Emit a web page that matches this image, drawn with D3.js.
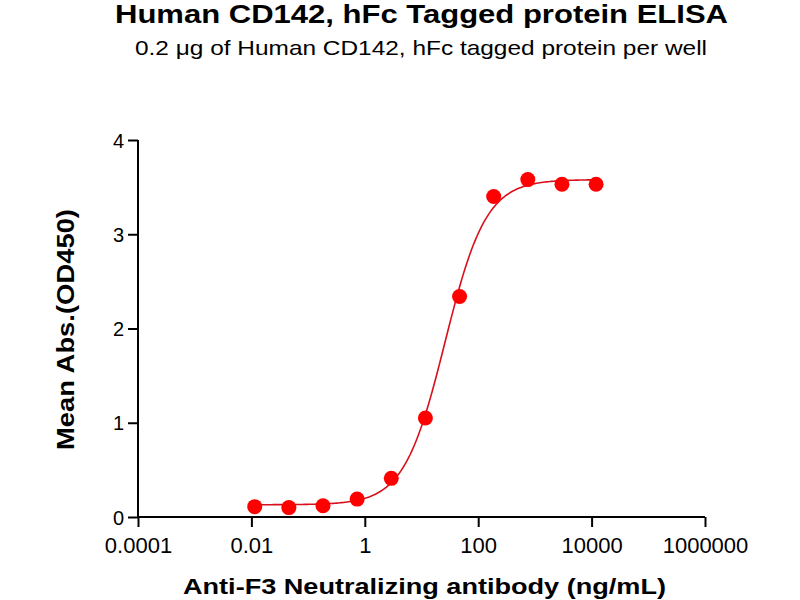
<!DOCTYPE html>
<html><head><meta charset="utf-8">
<script src="https://cdn.jsdelivr.net/npm/d3@7"></script>
<style>body{margin:0;background:#fff}</style>
</head><body><svg id="c" width="800" height="600"></svg>
<script>
const concentrations = [0.01144, 0.04578, 0.1831, 0.7324, 2.930, 11.72, 46.88, 187.5, 750, 3000, 12000];
const absorbance = [0.11, 0.10, 0.12, 0.19, 0.41, 1.05, 2.34, 3.40, 3.58, 3.53, 3.53];
const xTicks = [0.0001, 0.01, 1, 100, 10000, 1000000];
const xTickLabels = ["0.0001", "0.01", "1", "100", "10000", "1000000"];
const yTicks = [0, 1, 2, 3, 4];
// four-parameter logistic fit: bottom, top, EC50, hill slope
const fitParams = [0.13, 3.58, 26, 1.2];

const svg = d3.select("#c");
const font = "'Liberation Sans', Arial, sans-serif";
const x = d3.scaleLog().domain([0.0001, 1000000]).range([138, 705]);
const y = d3.scaleLinear().domain([0, 4]).range([517, 140]);

svg.append("text").attr("x", 115).attr("y", 23).attr("textLength", 613).attr("lengthAdjust", "spacingAndGlyphs")
  .attr("font-family", font).attr("font-weight", "bold").attr("font-size", 25).text("Human CD142, hFc Tagged protein ELISA");
svg.append("text").attr("x", 135).attr("y", 55).attr("textLength", 572).attr("lengthAdjust", "spacingAndGlyphs")
  .attr("font-family", font).attr("font-size", 21).text("0.2 \u03bcg of Human CD142, hFc tagged protein per well");

const xa = svg.append("g").attr("transform", "translate(0,517)")
  .call(d3.axisBottom(x).tickValues(xTicks).tickFormat((d, i) => xTickLabels[i]).tickSize(10));
const ya = svg.append("g").attr("transform", "translate(138,0)")
  .call(d3.axisLeft(y).tickValues(yTicks).tickFormat(d3.format("d")).tickSize(10).tickPadding(4));
[xa, ya].forEach(a => {
  a.select(".domain").attr("stroke", "#000").attr("stroke-width", 2);
  a.selectAll(".tick line").attr("stroke", "#000").attr("stroke-width", 2);
  a.selectAll("text").attr("font-family", font).attr("fill", "#000");
});
xa.select(".domain").attr("d", "M138,0H705");
ya.select(".domain").attr("d", "M0,517V140");
xa.selectAll("text").attr("font-size", 22).attr("dy", null).attr("y", 36);
ya.selectAll("text").attr("font-size", 20).attr("dy", "0.35em");

svg.append("text").attr("x", 183).attr("y", 594).attr("textLength", 483).attr("lengthAdjust", "spacingAndGlyphs")
  .attr("font-family", font).attr("font-weight", "bold").attr("font-size", 22).text("Anti-F3 Neutralizing antibody (ng/mL)");
svg.append("text").attr("transform", "translate(74,450) rotate(-90)").attr("textLength", 241).attr("lengthAdjust", "spacingAndGlyphs")
  .attr("font-family", font).attr("font-weight", "bold").attr("font-size", 23).text("Mean Abs.(OD450)");

const [B, T, EC50, H] = fitParams;
const fit = c => B + (T - B) / (1 + Math.pow(EC50 / c, H));
const lo = Math.log10(concentrations[0]), hi = Math.log10(concentrations[concentrations.length - 1]);
const curve = d3.range(0, 201).map(i => Math.pow(10, lo + (hi - lo) * i / 200));
svg.append("path").datum(curve).attr("fill", "none").attr("stroke", "#d8101c").attr("stroke-width", 1.6)
  .attr("d", d3.line().x(c => x(c)).y(c => y(fit(c))));

svg.selectAll("circle.pt").data(concentrations).enter().append("circle")
  .attr("cx", d => x(d)).attr("cy", (d, i) => y(absorbance[i])).attr("r", 7.5).attr("fill", "#ff0000");
</script></body></html>
